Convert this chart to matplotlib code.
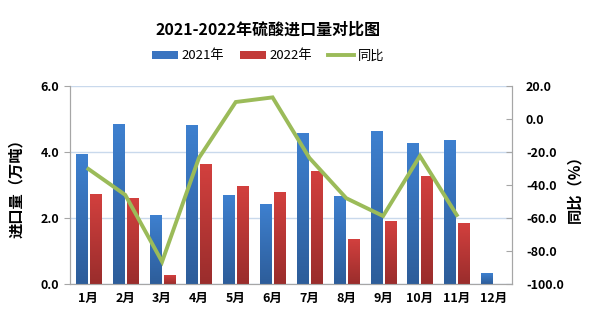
import numpy as np
import matplotlib.pyplot as plt
from matplotlib.colors import LinearSegmentedColormap

plt.rcParams['font.family'] = ['Noto Sans CJK SC', 'DejaVu Sans']

months = ['1月', '2月', '3月', '4月', '5月', '6月', '7月', '8月', '9月', '10月', '11月', '12月']
v2021 = [3.91, 4.82, 2.09, 4.79, 2.67, 2.42, 4.55, 2.64, 4.61, 4.27, 4.36, 0.33]
v2022 = [2.70, 2.58, 0.27, 3.61, 2.94, 2.76, 3.42, 1.36, 1.88, 3.27, 1.82, np.nan]
yoy = [-30.3, -46.0, -86.5, -23.6, 10.3, 13.1, -23.6, -48.0, -58.8, -22.4, -58.2, np.nan]

fig = plt.figure(figsize=(6.03, 3.23), dpi=100)
ax = fig.add_axes([70/603, 1 - 284/323, 442/603, 198/323])
ax2 = ax.twinx()

x = np.arange(len(months))
w = 0.3
b1 = ax.bar(x - 0.19, v2021, w, color='#3a74c0', label='2021年', zorder=2)
b2 = ax.bar(x + 0.19, v2022, w, color='#c23a38', label='2022年', zorder=2)

# gradient fill on top of each bar
blue_cm = LinearSegmentedColormap.from_list('b', ['#2d5d9a', '#3e80cf'])
red_cm = LinearSegmentedColormap.from_list('r', ['#9a2d2c', '#d2403e'])
grad = np.linspace(0, 1, 100).reshape(-1, 1)
for bars, cm in [(b1, blue_cm), (b2, red_cm)]:
    for p in bars:
        h = p.get_height()
        if np.isnan(h) or h <= 0:
            continue
        x0 = p.get_x()
        ax.imshow(grad, cmap=cm, origin='lower', aspect='auto', zorder=3,
                  extent=[x0, x0 + p.get_width(), 0, h], interpolation='bilinear')

ax.set_xlim(-0.5, len(months) - 0.5)
ax.set_ylim(0, 6)
ax.set_yticks([0, 2, 4, 6])
ax.set_yticklabels([f'{t:.1f}' for t in [0, 2, 4, 6]])
ax.set_xticks(x)
ax.set_xticklabels(months)
ax.grid(axis='y', color='#c9d9ec', lw=1, zorder=0)
ax.set_axisbelow(True)

ax2.plot(x, yoy, color='#9bbb59', lw=2.8, label='同比', zorder=4, solid_joinstyle='miter')
ax2.set_ylim(-100, 20)
ax2.set_yticks(np.arange(-100, 21, 20))
ax2.set_yticklabels([f'{t:.1f}' for t in np.arange(-100, 21, 20)])

for a in (ax, ax2):
    a.spines['top'].set_visible(False)
    for s in ('left', 'right', 'bottom'):
        a.spines[s].set_color('#a6a6a6')
    for lab in a.get_yticklabels() + a.get_xticklabels():
        lab.set_fontweight('bold')
        lab.set_fontsize(9)

ax.tick_params(axis='x', length=0, pad=6)
ax.tick_params(axis='y', length=4, color='#a6a6a6', pad=4)
ax2.tick_params(axis='y', length=4, direction='in', color='#a6a6a6', pad=10)

ax.set_ylabel('进口量（万吨）', fontsize=11, fontweight='bold', labelpad=12)
ax2.set_ylabel('同比（%）', fontsize=11, fontweight='bold', rotation=90, labelpad=2)

fig.text(268/603, 1 - 30/323, '2021-2022年硫酸进口量对比图', ha='center', va='center',
         fontsize=11.5, fontweight='bold')

h1, l1 = ax.get_legend_handles_labels()
h2, l2 = ax2.get_legend_handles_labels()
fig.legend(h1 + h2, l1 + l2, loc='center', bbox_to_anchor=(268/603, 1 - 56/323), ncol=3,
           frameon=False, fontsize=9.5, handlelength=2.0, handleheight=0.5,
           columnspacing=1.2, handletextpad=0.25, borderpad=0)

fig.savefig('out.png', dpi=100)
